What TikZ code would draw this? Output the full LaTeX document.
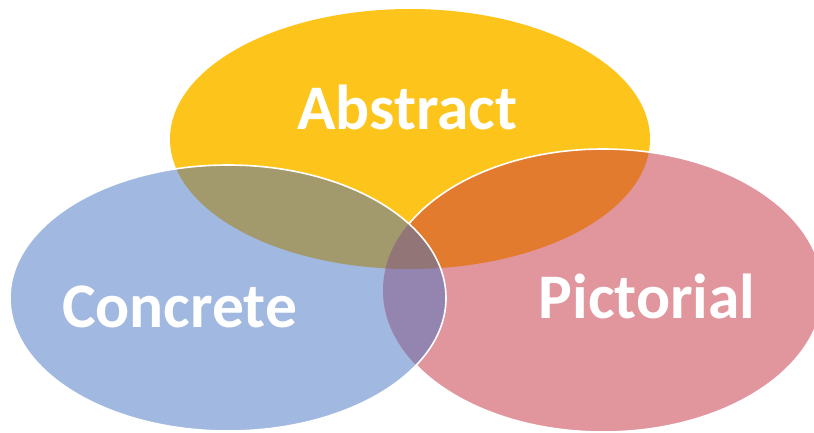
\documentclass[tikz,border=0pt]{standalone}
\usepackage{fontspec}
\setmainfont{Carlito}
\definecolor{cA}{HTML}{FDC51B}
\definecolor{cC}{HTML}{A1B8E0}
\definecolor{cP}{HTML}{E1969E}
\definecolor{cAC}{HTML}{A29A6D}
\definecolor{cAP}{HTML}{E27B2E}
\definecolor{cCP}{HTML}{9485B0}
\definecolor{cACP}{HTML}{927576}
\tikzset{
  lbl/.style={text=white,font=\fontsize{63.5}{64}\selectfont\bfseries,anchor=base,inner sep=0pt},
  rim/.style={draw=white,line width=1.6pt}
}
\def\pathA{(410,139) ellipse [x radius=240,y radius=130]}
\def\pathC{(228,298) ellipse [x radius=218,y radius=133]}
\def\pathP{(603,290.5) ellipse [x radius=220,y radius=141.5]}
\begin{document}
\begin{tikzpicture}[x=1pt,y=-1pt]
\useasboundingbox (0,0) rectangle (814,433);
\fill[cA] \pathA;
\fill[cC] \pathC;
\fill[cP] \pathP;
\begin{scope}
  \clip \pathA;
  \fill[cAC] \pathC;
  \fill[cAP] \pathP;
  \clip \pathC;
  \fill[cACP] \pathP;
\end{scope}
\begin{scope}
  \clip \pathC;
  \fill[cCP] \pathP;
  \clip \pathA;
  \fill[cACP] \pathP;
\end{scope}
% white rims
\begin{scope}[even odd rule]
  \clip (-10,-10) rectangle (830,450) \pathC;
  \draw[rim] \pathP;
\end{scope}
\draw[rim] \pathC;
\node[lbl] (abstract) at (407.5,130) {Abstract};
\node[lbl] (concrete) at (179.5,327) {Concrete};
\node[lbl] (pictorial) at (647,318) {Pictorial};
\end{tikzpicture}
\end{document}
